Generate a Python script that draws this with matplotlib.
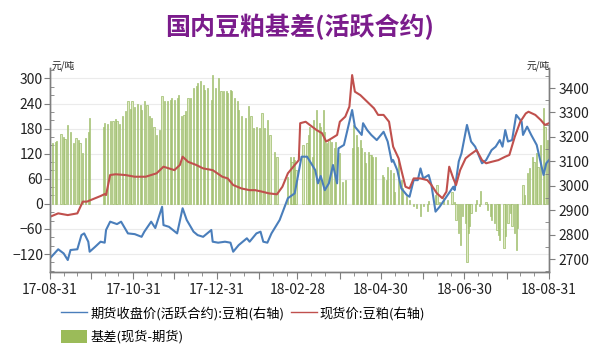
import numpy as np
import pandas as pd
import matplotlib.pyplot as plt
import matplotlib.dates as mdates
from matplotlib.ticker import MultipleLocator, FixedLocator
from matplotlib.patches import Patch
from matplotlib.lines import Line2D

plt.rcParams['font.family'] = ['Noto Sans CJK SC', 'DejaVu Sans']

start = pd.Timestamp('2017-08-31')

# 期货收盘价 (天数偏移, 元/吨)
fut_day = [0, 6, 10, 13, 15, 20, 23, 25, 28, 29, 33, 37, 40, 41, 44, 49, 52, 57, 62, 67,
           69, 74, 77, 82, 83, 87, 93, 97, 100, 105, 108, 112, 118, 119, 123, 128, 132, 134,
           138, 144, 146, 151, 154, 156, 159, 162, 168, 174, 179, 184, 188, 191, 194, 196,
           198, 201, 204, 207, 210, 211, 215, 221, 223, 228, 229, 232, 235, 239, 244, 247,
           250, 251, 254, 257, 261, 263, 266, 269, 271, 273, 277, 279, 282, 285, 290, 295,
           296, 299, 301, 305, 308, 311, 313, 316, 319, 323, 326, 329, 331, 333, 335, 338,
           341, 345, 346, 349, 352, 356, 361, 363, 365]
fut_px = [2703, 2740, 2723, 2696, 2737, 2740, 2798, 2805, 2771, 2730, 2750, 2771, 2767, 2819,
          2853, 2843, 2853, 2805, 2802, 2791, 2812, 2853, 2827, 2914, 2839, 2832, 2805, 2908,
          2860, 2812, 2798, 2791, 2819, 2771, 2767, 2771, 2767, 2730, 2757, 2785, 2771, 2805,
          2812, 2771, 2767, 2805, 2860, 2949, 2969, 3119, 3119, 3092, 3064, 3010, 3040, 2982,
          3010, 3085, 3010, 3153, 3167, 3310, 3242, 3208, 3256, 3228, 3208, 3187, 3221, 3181,
          3098, 3105, 3064, 2989, 2962, 2955, 3023, 3023, 3071, 3030, 3044, 3003, 2894, 2914,
          2955, 2996, 2982, 3100, 3133, 3249, 3181, 3160, 3133, 3092, 3105, 3146, 3160, 3187,
          3160, 3228, 3181, 3187, 3290, 3262, 3208, 3242, 3208, 3167, 3044, 3092, 3105]

# 现货价
spot_day = [0, 6, 13, 20, 24, 27, 30, 37, 40, 41, 44, 48, 55, 62, 70, 78, 83, 87, 91, 95, 97,
            101, 107, 112, 119, 126, 130, 134, 140, 146, 150, 155, 160, 166, 170, 174, 179,
            182, 183, 187, 190, 195, 199, 202, 206, 210, 212, 216, 219, 221, 223, 227, 232,
            237, 240, 244, 248, 249, 251, 255, 257, 260, 263, 266, 271, 276, 279, 283, 287,
            290, 292, 295, 297, 300, 304, 307, 312, 316, 319, 323, 328, 333, 336, 340, 344,
            348, 350, 355, 359, 362, 365]
spot_px = [2873, 2887, 2880, 2887, 2935, 2935, 2942, 2958, 2966, 2962, 3044, 3047, 3044, 3037,
           3037, 3051, 3078, 3071, 3064, 3085, 3119, 3098, 3085, 3071, 3064, 3037, 3030, 3003,
           2989, 2982, 2982, 2976, 2969, 2965, 2996, 3051, 3085, 3105, 3256, 3262, 3249, 3228,
           3215, 3181, 3194, 3208, 3262, 3283, 3324, 3453, 3385, 3371, 3344, 3317, 3290, 3290,
           3262, 3228, 3160, 3112, 3064, 2996, 2989, 3030, 3030, 3023, 3003, 2969, 2949, 2976,
           3078, 3030, 3003, 3064, 3112, 3126, 3146, 3105, 3092, 3098, 3105, 3119, 3126, 3201,
           3262, 3296, 3303, 3290, 3269, 3249, 3256]

# 基差(现货-期货)
basis_day = [2, 4, 5, 8, 10, 11, 13, 15, 17, 19, 21, 22, 24, 26, 28, 29, 39, 40, 42, 44, 46,
             48, 49, 51, 53, 55, 57, 59, 60, 62, 64, 66, 67, 69, 71, 73, 74, 76, 78, 80, 82,
             84, 86, 88, 89, 91, 93, 94, 96, 98, 99, 101, 103, 105, 107, 108, 110, 112, 113,
             115, 118, 119, 121, 123, 125, 127, 129, 130, 132, 133, 135, 137, 138, 140, 143,
             145, 147, 149, 151, 153, 155, 157, 159, 161, 164, 166, 174, 176, 177, 178, 179,
             180, 185, 188, 189, 190, 192, 193, 195, 197, 198, 200, 201, 202, 204, 206, 208,
             209, 212, 214, 216, 221, 222, 224, 225, 227, 228, 230, 231, 233, 234, 235, 236,
             238, 243, 244, 246, 247, 249, 251, 252, 255, 257, 258, 261, 263, 266, 268, 271,
             273, 276, 277, 282, 283, 285, 288, 291, 294, 296, 297, 299, 300, 302, 304, 305,
             306, 307, 308, 311, 312, 314, 315, 319, 320, 322, 323, 325, 327, 328, 329, 332,
             333, 335, 337, 338, 340, 341, 342, 346, 347, 349, 351, 353, 354, 356, 357, 359,
             361, 362, 364]
basis_val = [145, 147, 150, 166, 160, 155, 188, 173, 145, 157, 153, 145, 121, 158, 172, 206,
             183, 193, 190, 198, 198, 202, 198, 191, 209, 221, 245, 228, 245, 232, 240, 237,
             225, 245, 237, 209, 205, 185, 165, 177, 257, 245, 245, 249, 253, 249, 254, 261,
             209, 213, 221, 253, 253, 277, 281, 289, 293, 285, 273, 277, 249, 309, 277, 301,
             269, 269, 269, 265, 273, 269, 253, 245, 225, 209, 205, 233, 209, 181, 185, 181,
             217, 181, 201, 165, 125, 113, 65, 113, 101, 113, 105, 81, 141, 145, 165, 185, 113,
             201, 225, 193, 185, 225, 173, 145, 153, 149, 133, 149, 121, 53, 57, 133, 189, 165,
             137, 153, 133, 125, 97, 125, 117, 117, 113, 113, 69, 65, 57, 89, 81, 73, 29, 105,
             57, 37, 18, 10, -6, -10, -30, -6, -18, 6, 22, 45, 5, 15, 10, 29, 5, -38, -70, -98,
             -30, -46, -138, -70, -54, -22, -18, 10, -6, 30, 5, -14, -30, -38, -46, -62, -74,
             -86, -106, -78, -46, -22, -54, -70, -110, -58, 45, 22, 73, 85, 113, 101, 121, 89,
             141, 229, 185, 153]

fut_x = start + pd.to_timedelta(fut_day, unit='D')
spot_x = start + pd.to_timedelta(spot_day, unit='D')
basis_x = start + pd.to_timedelta(basis_day, unit='D')

fig = plt.figure(figsize=(6, 3.51), dpi=100)
ax = fig.add_axes([50 / 600, 1 - 272 / 351, 499 / 600, 204 / 351])

ax.bar(basis_x, basis_val, width=0.9, color='#dde9c2', edgecolor='#93b65b', linewidth=0.45,
       zorder=2)
ax.set_ylim(-163, 325)
ax.yaxis.set_major_locator(FixedLocator([-120, -60, 0, 60, 120, 180, 240, 300]))
ax.yaxis.set_minor_locator(MultipleLocator(20))
ax.grid(axis='y', color='#ebebeb', linewidth=0.8, zorder=0)
ax.set_axisbelow(True)

ax2 = ax.twinx()
ax2.plot(fut_x, fut_px, color='#4a7ebb', linewidth=1.5)
ax2.plot(spot_x, spot_px, color='#c0504d', linewidth=1.5)
ax2.set_ylim(2647, 3482)
ax2.yaxis.set_major_locator(MultipleLocator(100))
ax2.yaxis.set_minor_locator(MultipleLocator(50))

ax.set_xlim(start, start + pd.Timedelta(days=365))
month_ends = pd.date_range('2017-08-31', '2018-08-31', freq='ME')
ax.xaxis.set_major_locator(FixedLocator(mdates.date2num(month_ends)))
ax.set_xticklabels([d.strftime('%y-%m-%d') if i % 2 == 0 else '' for i, d in enumerate(month_ends)])
minor_days = pd.date_range('2017-09-01', '2018-08-31', freq='D')
minor_days = minor_days[minor_days.day.isin([10, 20])]
ax.xaxis.set_minor_locator(FixedLocator(mdates.date2num(minor_days)))

for a in (ax, ax2):
    a.spines['top'].set_visible(False)
    for s in a.spines.values():
        s.set_color('#7f7f7f')
        s.set_linewidth(1.0)
ax.tick_params(axis='x', which='major', length=5, color='#7f7f7f', labelsize=10, pad=3,
               labelcolor='#222222')
ax.tick_params(axis='x', which='minor', length=3, color='#7f7f7f')
ax.tick_params(axis='y', which='major', length=4, color='#7f7f7f', labelsize=10, pad=1,
               labelcolor='#222222')
ax.tick_params(axis='y', which='minor', length=3, direction='in', color='#7f7f7f')
ax2.tick_params(axis='y', which='major', length=4, color='#7f7f7f', labelsize=10, pad=3,
                labelcolor='#222222')
ax2.tick_params(axis='y', which='minor', length=3, direction='in', color='#7f7f7f')

fig.text(52 / 600, 1 - 66 / 351, '元/吨', fontsize=7, ha='left', va='center', color='#222222')
fig.text(550 / 600, 1 - 66 / 351, '元/吨', fontsize=7, ha='right', va='center', color='#222222')

fig.text(0.5, 1 - 27 / 351, '国内豆粕基差(活跃合约)', fontsize=18, fontweight='heavy',
         color='#7b1c8c', ha='center', va='center')

handles = [Line2D([], [], color='#4a7ebb', linewidth=1.0),
           Patch(facecolor='#9bbb59', edgecolor='none'),
           Line2D([], [], color='#c0504d', linewidth=1.0)]
labels = ['期货收盘价(活跃合约):豆粕(右轴)', '基差(现货-期货)', '现货价:豆粕(右轴)']
fig.legend(handles, labels, loc='upper left', bbox_to_anchor=(61 / 600, 1 - 307 / 351),
           ncol=2, frameon=False, fontsize=9.5, handlelength=2.0, handleheight=1.1,
           handletextpad=0.2, columnspacing=0.5, labelspacing=0.7, borderaxespad=0,
           borderpad=0)

fig.savefig('out.png', dpi=100)
